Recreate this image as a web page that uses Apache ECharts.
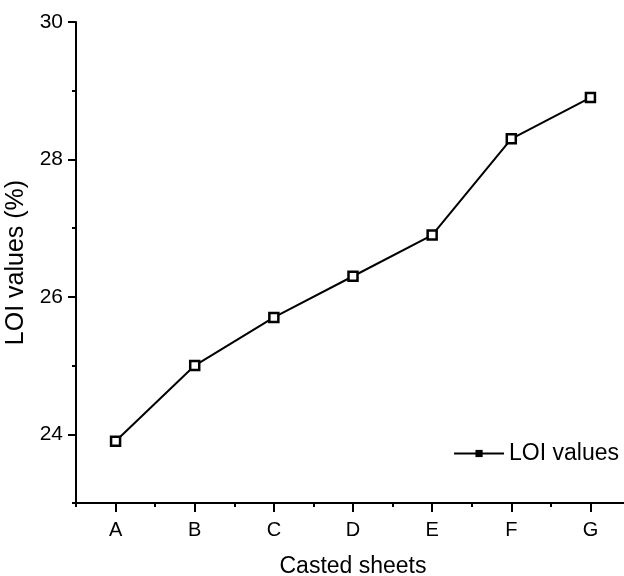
<!DOCTYPE html>
<html>
<head>
<meta charset="utf-8">
<script src="https://cdn.jsdelivr.net/npm/echarts@6/dist/echarts.min.js"></script>
<style>
html, body { margin: 0; padding: 0; background: #fff; }
#main { width: 624px; height: 576px; }
</style>
</head>
<body>
<div id="main"></div>
<script>
var categories = ['A', 'B', 'C', 'D', 'E', 'F', 'G'];
var loiValues = [23.9, 25.0, 25.7, 26.3, 26.9, 28.3, 28.9];
var yMajor = [24, 26, 28, 30];
var yMinor = [23, 25, 27, 29];

var myChart = echarts.init(document.getElementById('main'));

var points = loiValues.map(function (v, i) { return [i + 1, v]; });
var xMajor = categories.map(function (c, i) { return i + 1; });
var xMinor = categories.map(function (c, i) { return i + 0.5; }).concat([categories.length + 0.5]);

var black = { color: '#000', width: 2 };

var option = {
  backgroundColor: '#fff',
  textStyle: { fontFamily: 'Liberation Sans, Arial, sans-serif', color: '#000' },
  grid: { left: 76, top: 22, width: 554, height: 481, outerBoundsMode: 'none', containLabel: false },
  legend: {
    right: 0,
    top: 437,
    itemWidth: 50,
    itemHeight: 9,
    itemGap: 6,
    textStyle: { fontSize: 23, color: '#000' },
    data: [{ name: 'LOI values', itemStyle: { color: '#000', borderColor: '#000', borderWidth: 0 } }]
  },
  xAxis: [{
    type: 'value',
    min: 0.5,
    max: 7.5,
    position: 'bottom',
    name: 'Casted sheets',
    nameLocation: 'middle',
    nameGap: 52,
    nameTextStyle: { fontSize: 23, color: '#000' },
    axisLine: { lineStyle: black },
    axisTick: { length: 9, lineStyle: black, customValues: xMajor },
    axisLabel: {
      fontSize: 20, color: '#000', margin: 17,
      customValues: xMajor,
      formatter: function (v) { return categories[Math.round(v) - 1]; }
    },
    splitLine: { show: false }
  }, {
    type: 'value',
    min: 0.5,
    max: 7.5,
    position: 'bottom',
    offset: 0,
    axisLine: { show: false },
    axisTick: { length: 4, lineStyle: black, customValues: xMinor },
    axisLabel: { show: false },
    splitLine: { show: false }
  }],
  yAxis: [{
    type: 'value',
    min: 23,
    max: 30,
    position: 'left',
    name: 'LOI values (%)',
    nameLocation: 'middle',
    nameGap: 38,
    nameTextStyle: { fontSize: 25, color: '#000' },
    axisLine: { show: true, lineStyle: black },
    axisTick: { show: true, length: 8, lineStyle: black, customValues: yMajor },
    axisLabel: {
      fontSize: 21, color: '#000', margin: 13,
      customValues: yMajor
    },
    splitLine: { show: false }
  }, {
    type: 'value',
    min: 23,
    max: 30,
    position: 'left',
    offset: 0,
    axisLine: { show: false },
    axisTick: { show: true, length: 4, lineStyle: black, customValues: yMinor },
    axisLabel: { show: false },
    splitLine: { show: false }
  }],
  series: [{
    name: 'LOI values',
    type: 'line',
    data: points,
    symbol: 'rect',
    symbolSize: 9,
    lineStyle: { color: '#000', width: 2 },
    itemStyle: { color: '#fff', borderColor: '#000', borderWidth: 2.5 },
    emphasis: { disabled: true },
    animation: false
  }]
};
myChart.setOption(option);
</script>
</body>
</html>
